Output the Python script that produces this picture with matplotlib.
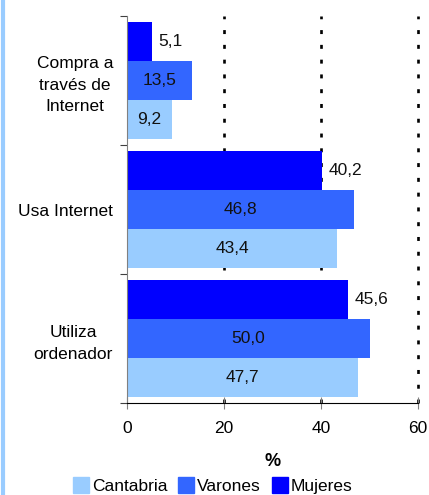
import matplotlib

matplotlib.use("Agg")

import matplotlib.pyplot as plt
from matplotlib.lines import Line2D
import numpy as np

plt.rcParams["font.family"] = ["Liberation Sans", "DejaVu Sans"]

CATEGORIES = ["Compra a\ntravés de\nInternet", "Usa Internet", "Utiliza\nordenador"]
SERIES = ["Cantabria", "Varones", "Mujeres"]
CANTABRIA = [9.2, 43.4, 47.7]
VARONES = [13.5, 46.8, 50.0]
MUJERES = [5.1, 40.2, 45.6]
COLORS = {"Cantabria": "#99CCFF", "Varones": "#3366FF", "Mujeres": "#0000FF"}
XTICKS = [0, 20, 40, 60]

fig = plt.figure(figsize=(4.29, 4.95), dpi=100)
ax = fig.add_axes([127 / 429, 1 - 403 / 495, 291 / 429, 387 / 495])

pos = np.arange(len(CATEGORIES))
h = 0.3
values = {"Cantabria": CANTABRIA, "Varones": VARONES, "Mujeres": MUJERES}
offsets = {"Mujeres": -h, "Varones": 0.0, "Cantabria": h}

# dotted gridlines behind the bars
for xv in XTICKS[1:]:
    ax.axvline(xv, color="black", lw=1.9, ls=(0, (1.5, 4.1)), zorder=1,
               clip_on=False)

for name in SERIES:
    vals = values[name]
    ax.barh(pos + offsets[name], vals, height=h, color=COLORS[name],
            label=name, zorder=2)
    for y, v in zip(pos + offsets[name], vals):
        txt = f"{v:.1f}".replace(".", ",")
        if name == "Mujeres":
            ax.text(v + 1.3, y, txt, ha="left", va="center", fontsize=12.5,
                    color="#111111", zorder=3)
        else:
            ax.text(v / 2, y, txt, ha="center", va="center", fontsize=12.5,
                    color="#111111", zorder=3)

ax.set_xlim(0, 60)
ax.set_ylim(2.5, -0.5)
ax.set_xticks(XTICKS)
ax.set_xticklabels([str(t) for t in XTICKS], fontsize=12.5)
ax.tick_params(axis="x", direction="inout", length=8, color="#808080",
               pad=9)

ax.set_yticks([-0.5, 0.5, 1.5, 2.5])
ax.set_yticklabels([])
ax.tick_params(axis="y", which="major", direction="out", length=5,
               color="#404040")
ax.set_yticks(pos, minor=True)
ax.set_yticklabels(CATEGORIES, minor=True, fontsize=12.5, ha="right",
                   multialignment="center", linespacing=1.55)
ax.tick_params(axis="y", which="minor", length=0, pad=10)

for s in ("top", "right"):
    ax.spines[s].set_visible(False)
ax.spines["left"].set_color("#808080")
ax.spines["bottom"].set_color("black")

ax.set_xlabel("%", fontsize=13, fontweight="bold", labelpad=12)

handles = [Line2D([], [], marker="s", ls="none", markersize=11,
                  markerfacecolor=COLORS[n], markeredgecolor=COLORS[n])
           for n in SERIES]
fig.legend(handles, SERIES, loc="center", ncol=3, frameon=False,
           bbox_to_anchor=(0.495, 0.018), fontsize=12.5, handletextpad=0.1,
           columnspacing=0.6, handlelength=1.0)

fig.add_artist(Line2D([3 / 429, 3 / 429], [0, 1], color="#99CCFF", lw=3,
                      transform=fig.transFigure))

fig.savefig("out.png", dpi=100)
